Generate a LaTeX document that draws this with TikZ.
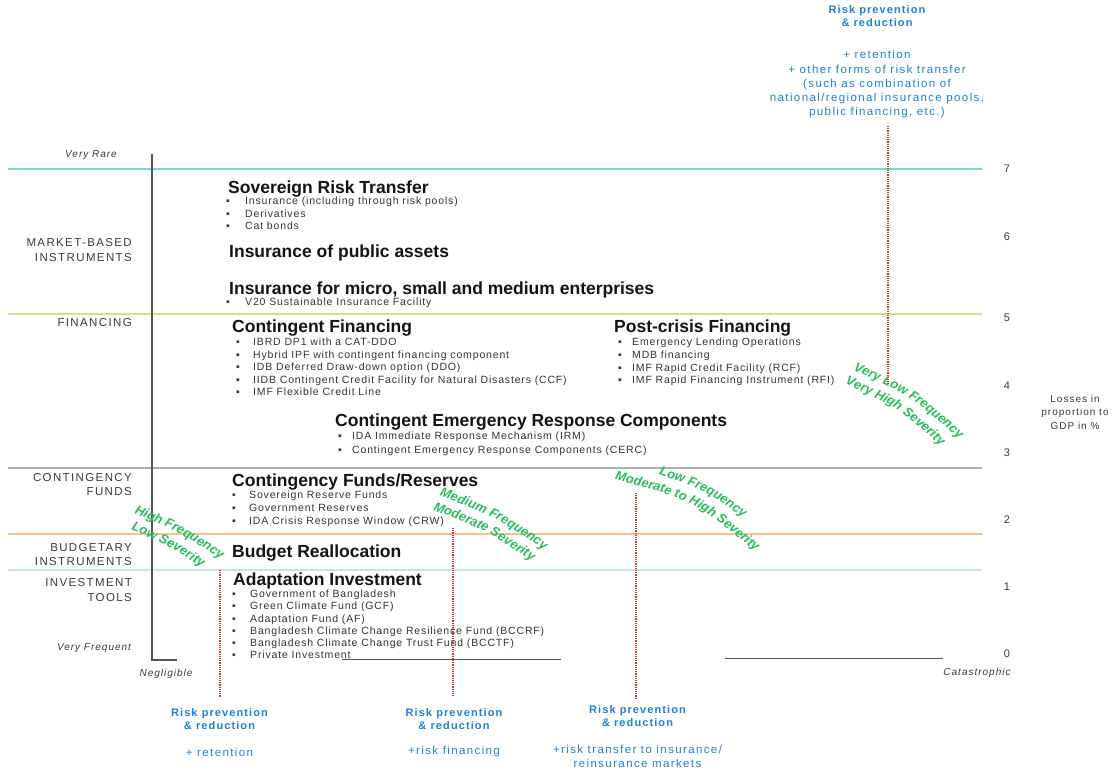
\documentclass[tikz,border=0pt]{standalone}
\usepackage{fontspec}
\usetikzlibrary{decorations.text}
\setmainfont{Liberation Sans}
\newfontfamily\trk[LetterSpace=10]{Liberation Sans}
\newfontfamily\trkw[LetterSpace=12]{Liberation Sans}
\newfontfamily\trkb[LetterSpace=8]{Liberation Sans}
\definecolor{headc}{HTML}{141414}
\definecolor{bodyc}{HTML}{333333}
\definecolor{labc}{HTML}{3A3A3A}
\definecolor{blueT}{RGB}{30,128,214}
\definecolor{greenT}{RGB}{38,190,90}
\definecolor{redD}{RGB}{214,52,58}
\definecolor{lnCyan}{RGB}{125,214,214}
\definecolor{lnYel}{RGB}{208,226,145}
\definecolor{lnGray}{RGB}{175,175,175}
\definecolor{lnOr}{RGB}{246,192,142}
\definecolor{lnLc}{RGB}{192,230,230}
\definecolor{axc}{HTML}{555555}
\newcommand\gfont{\fontsize{13}{16}\selectfont\bfseries\itshape\color{greenT}}
% #1,#2 centre; #3 angle; #4 half length; #5 shift along; #6 baseline offset; #7 bulge; #8 text
\newcommand\gline[8]{\path[decorate,decoration={text along path,text align=center,text={|\gfont|#8}}]
  ([shift={(#1,#2)},rotate=-#3]{-#4+#5},#6) .. controls ([shift={(#1,#2)},rotate=-#3]#5,{#6-#7}) .. ([shift={(#1,#2)},rotate=-#3]{#4+#5},#6);}
\begin{document}
\begin{tikzpicture}[x=1pt,y=-1pt,
 head/.style={anchor=west,inner sep=0,font=\fontsize{17.5}{20}\selectfont\bfseries,text=headc,text height=12.5pt,text depth=0pt},
 btxt/.style={anchor=west,inner sep=0,font=\trkb\fontsize{10.5}{12}\selectfont,text=bodyc,text height=7.5pt,text depth=0pt},
 bdot/.style={btxt,anchor=center},
 lab/.style={anchor=east,inner sep=0,align=right,font=\trkw\fontsize{11.5}{14.5}\selectfont,text=labc},
 ital/.style={inner sep=0,font=\trk\fontsize{10}{12}\selectfont\itshape,text=labc},
 num/.style={inner sep=0,font=\fontsize{11}{12}\selectfont,text=labc},
 blb/.style={inner sep=0,align=center,font=\trk\fontsize{11}{13.5}\selectfont\bfseries,text=blueT},
 blr/.style={inner sep=0,align=center,font=\trkw\fontsize{11.5}{14}\selectfont,text=blueT},
 reddots/.style={draw=redD,line width=1.6pt,dash pattern=on 1.2pt off 1pt},
 hl/.style={line width=1.1pt},
 axis/.style={draw=axc,line width=1.3pt}
]
\useasboundingbox (0,0) rectangle (1114,772);
\fill[white] (0,0) rectangle (1114,772);

% horizontal band lines
\coordinate (l1a) at (8,169); \coordinate (l1b) at (982,169);
\coordinate (l2a) at (8,314); \coordinate (l2b) at (982,314);
\coordinate (l3a) at (8,468); \coordinate (l3b) at (982,468);
\coordinate (l4a) at (8,534); \coordinate (l4b) at (982,534);
\coordinate (l5a) at (8,570); \coordinate (l5b) at (982,570);
\draw[hl,lnCyan] (l1a) -- (l1b);
\draw[hl,lnYel] (l2a) -- (l2b);
\draw[hl,lnGray] (l3a) -- (l3b);
\draw[hl,lnOr] (l4a) -- (l4b);
\draw[hl,lnLc] (l5a) -- (l5b);

% axes
\coordinate (ax1) at (152,154); \coordinate (ax2) at (152,660); \coordinate (ax3) at (177,660);
\draw[axis] (ax1) -- (ax2) -- (ax3);
\coordinate (bx1) at (342,659); \coordinate (bx2) at (561,659);
\coordinate (bx3) at (725,658); \coordinate (bx4) at (943,658);
\draw[axis,line width=1pt] (bx1) -- (bx2);
\draw[axis,line width=1pt] (bx3) -- (bx4);

% red dotted lines
\coordinate (r1a) at (220,570); \coordinate (r1b) at (220,697);
\coordinate (r2a) at (453,528); \coordinate (r2b) at (453,697);
\coordinate (r3a) at (636,493); \coordinate (r3b) at (636,698);
\coordinate (r4a) at (888,126); \coordinate (r4b) at (888,384);
\draw[reddots] (r1a) -- (r1b);
\draw[reddots] (r2a) -- (r2b);
\draw[reddots] (r3a) -- (r3b);
\draw[reddots] (r4a) -- (r4b);

% left labels
\node[ital] (vr) at (91,155) {Very Rare};
\node[lab] (mb) at (132,250) {MARKET-BASED\\INSTRUMENTS};
\node[lab] (fi) at (132,323) {FINANCING};
\node[lab] (cf) at (132,484.5) {CONTINGENCY\\FUNDS};
\node[lab] (bi) at (132,554.5) {BUDGETARY\\INSTRUMENTS};
\node[lab] (it) at (132,590) {INVESTMENT\\TOOLS};
\node[ital] (vf) at (94,648) {Very Frequent};
\node[ital] (ng) at (166,674) {Negligible};
\node[ital] (ca) at (977,673) {Catastrophic};

% right scale
\foreach \n/\yy in {7/169,6/237,5/318,4/386,3/453,2/520,1/587,0/654}
  \node[num] (n\n) at (1007,\yy) {\n};
\node[inner sep=0,align=center,font=\trk\fontsize{10}{13.5}\selectfont,text=labc] (loss) at (1075,412) {Losses in\\proportion to\\GDP in \%};

% headings
\node[head] (h1) at (228,187) {Sovereign Risk Transfer};
\node[head] (h2) at (229,251) {Insurance of public assets};
\node[head] (h3) at (229,288) {Insurance for micro, small and medium enterprises};
\node[head] (h4) at (232,326) {Contingent Financing};
\node[head] (h5) at (614,326) {Post-crisis Financing};
\node[head] (h6) at (335,420) {Contingent Emergency Response Components};
\node[head] (h7) at (232,480) {Contingency Funds/Reserves};
\node[head] (h8) at (232,551) {Budget Reallocation};
\node[head] (h9) at (233,579) {Adaptation Investment};

% bullet lists
\foreach \txt [count=\i] in {{Insurance (including through risk pools)},{Derivatives},{Cat bonds}}{
  \node[bdot] (svb\i) at ({228},{201+12.3*(\i-1)}) {▪};
  \node[btxt] (svt\i) at ({245},{201+12.3*(\i-1)}) {\txt};
}
\node[bdot] (v2b) at (228,302) {▪};
\node[btxt] (v2t) at (245,302) {V20 Sustainable Insurance Facility};
\foreach \txt [count=\i] in {{IBRD DP1 with a CAT-DDO},{Hybrid IPF with contingent financing component},{IDB Deferred Draw-down option (DDO)},{IIDB Contingent Credit Facility for Natural Disasters (CCF)},{IMF Flexible Credit Line}}{
  \node[bdot] (cfb\i) at ({238},{342+12.5*(\i-1)}) {▪};
  \node[btxt] (cft\i) at ({253},{342+12.5*(\i-1)}) {\txt};
}
\foreach \txt [count=\i] in {{Emergency Lending Operations},{MDB financing},{IMF Rapid Credit Facility (RCF)},{IMF Rapid Financing Instrument (RFI)}}{
  \node[bdot] (pcb\i) at ({620},{342+12.7*(\i-1)}) {▪};
  \node[btxt] (pct\i) at ({632},{342+12.7*(\i-1)}) {\txt};
}
\foreach \txt [count=\i] in {{IDA Immediate Response Mechanism (IRM)},{Contingent Emergency Response Components (CERC)}}{
  \node[bdot] (ceb\i) at ({340},{436+14*(\i-1)}) {▪};
  \node[btxt] (cet\i) at ({352},{436+14*(\i-1)}) {\txt};
}
\foreach \txt [count=\i] in {{Sovereign Reserve Funds},{Government Reserves},{IDA Crisis Response Window (CRW)}}{
  \node[bdot] (frb\i) at ({234},{495+13*(\i-1)}) {▪};
  \node[btxt] (frt\i) at ({249},{495+13*(\i-1)}) {\txt};
}
\foreach \txt [count=\i] in {{Government of Bangladesh},{Green Climate Fund (GCF)},{Adaptation Fund (AF)},{Bangladesh Climate Change Resilience Fund (BCCRF)},{Bangladesh Climate Change Trust Fund (BCCTF)},{Private Investment}}{
  \node[bdot] (aib\i) at ({234},{594+12.2*(\i-1)}) {▪};
  \node[btxt] (ait\i) at ({250},{594+12.2*(\i-1)}) {\txt};
}

% green frequency/severity labels (curved)
\gline{174}{539}{28}{56}{1.6}{-3.6}{4.9}{High Frequency}
\gline{174}{539}{28}{46}{-2.2}{12.5}{4}{Low Severity}
\gline{489}{526}{27.5}{69}{1}{-2.8}{8.5}{Medium Frequency}
\gline{489}{526}{27.5}{63}{-1.4}{12.6}{7.7}{Moderate Severity}
\gline{694}{503}{27}{54}{3.1}{-8.3}{8.6}{Low Frequency}
\gline{694}{503}{27}{88}{-2.3}{17.5}{20.3}{Moderate to High Severity}
\gline{900}{408}{33}{71}{3.1}{-5}{11.2}{Very Low Frequency}
\gline{900}{408}{33}{66}{-2.3}{11.1}{10.5}{Very High Severity}

% blue annotations
\node[blb] (tb1) at (877,16) {Risk prevention\\\& reduction};
\node[blr] (tb2) at (877,54) {+ retention};
\node[blr] (tb3) at (877,92) {+ other forms of risk transfer\\(such as combination of\\national/regional insurance pools,\\public financing, etc.)};
\node[blb] (bb1) at (219.5,719) {Risk prevention\\\& reduction};
\node[blr] (bb1r) at (219.5,752) {+ retention};
\node[blb] (bb2) at (454,719) {Risk prevention\\\& reduction};
\node[blr] (bb2r) at (454,752) {+risk financing};
\node[blb] (bb3) at (637.5,716) {Risk prevention\\\& reduction};
\node[blr] (bb3r) at (637.5,756) {+risk transfer to insurance/\\reinsurance markets};
\end{tikzpicture}
\end{document}
